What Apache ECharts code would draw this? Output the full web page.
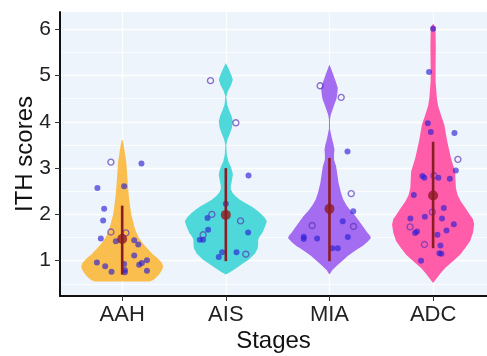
<!DOCTYPE html>
<html>
<head>
<meta charset="utf-8">
<script src="https://cdn.jsdelivr.net/npm/echarts@6/dist/echarts.min.js"></script>
<style>
  html, body { margin: 0; padding: 0; background: #ffffff; }
  #chart { width: 487px; height: 356px; }
</style>
</head>
<body>
<div id="chart"></div>
<script>
// ---- data -------------------------------------------------------------
const stages = ['AAH', 'AIS', 'MIA', 'ADC'];
const stagePositions = [1, 2, 3, 4];
const yTicks = [1, 2, 3, 4, 5, 6];
const yMinorLines = [0.5, 1.5, 2.5, 3.5, 4.5, 5.5];

// violin outlines: score levels and relative half-width (1 = widest)
const aahLevels = [0.55, 0.58, 0.62, 0.68, 0.74, 0.80, 0.87, 0.95, 1.02, 1.08, 1.13, 1.24, 1.38, 1.52, 1.66, 1.82, 2.00, 2.17, 2.40, 2.60, 2.85, 3.12, 3.30, 3.45, 3.55, 3.61];
const aahWidths = [0.66, 0.74, 0.80, 0.87, 0.92, 0.96, 0.99, 0.96, 0.89, 0.82, 0.75, 0.63, 0.49, 0.39, 0.32, 0.27, 0.22, 0.19, 0.16, 0.14, 0.12, 0.10, 0.07, 0.045, 0.025, 0.01];

const aisLevels = [0.70, 0.76, 0.82, 0.87, 0.95, 1.02, 1.15, 1.27, 1.36, 1.45, 1.53, 1.60, 1.72, 1.85, 1.94, 2.02, 2.10, 2.17, 2.25, 2.32, 2.40, 2.47, 2.55, 2.62, 2.70, 2.86, 2.95, 3.05, 3.15, 3.30, 3.50, 3.62, 3.75, 3.88, 4.01, 4.12, 4.25, 4.38, 4.55, 4.66, 4.78, 4.91, 5.02, 5.14, 5.27];
const aisWidths = [0.00, 0.12, 0.22, 0.30, 0.43, 0.55, 0.70, 0.77, 0.78, 0.78, 0.82, 0.88, 0.94, 0.99, 0.93, 0.84, 0.73, 0.62, 0.46, 0.33, 0.23, 0.16, 0.12, 0.12, 0.14, 0.17, 0.15, 0.11, 0.06, 0.024, 0.012, 0.04, 0.10, 0.15, 0.17, 0.14, 0.08, 0.03, 0.012, 0.05, 0.12, 0.17, 0.13, 0.07, 0.00];

const miaLevels = [0.70, 0.80, 0.90, 1.02, 1.10, 1.17, 1.25, 1.32, 1.41, 1.49, 1.55, 1.60, 1.75, 1.96, 2.08, 2.20, 2.33, 2.46, 2.68, 2.86, 3.04, 3.18, 3.30, 3.40, 3.50, 3.60, 3.72, 3.85, 4.05, 4.15, 4.25, 4.38, 4.50, 4.62, 4.73, 4.85, 4.95, 5.10, 5.24];
const miaWidths = [0.00, 0.07, 0.19, 0.34, 0.44, 0.55, 0.68, 0.80, 0.92, 1.00, 0.97, 0.92, 0.80, 0.63, 0.51, 0.41, 0.33, 0.28, 0.22, 0.19, 0.16, 0.11, 0.11, 0.12, 0.10, 0.07, 0.04, 0.012, 0.012, 0.03, 0.07, 0.12, 0.17, 0.19, 0.20, 0.16, 0.12, 0.06, 0.00];

const adcLevels = [0.52, 0.60, 0.72, 0.84, 0.98, 1.13, 1.28, 1.42, 1.60, 1.78, 1.90, 1.99, 2.14, 2.28, 2.42, 2.57, 2.75, 2.93, 3.22, 3.58, 3.94, 4.15, 4.35, 4.52, 4.87, 5.20, 5.60, 5.90, 6.05, 6.12];
const adcWidths = [0.00, 0.07, 0.17, 0.29, 0.47, 0.65, 0.78, 0.89, 0.96, 0.99, 0.96, 0.89, 0.78, 0.67, 0.59, 0.55, 0.54, 0.53, 0.43, 0.34, 0.27, 0.19, 0.12, 0.09, 0.06, 0.06, 0.065, 0.06, 0.055, 0.00];

// mean and mean ± SD per stage
const meanScores = [1.47, 1.99, 2.12, 2.41];
const sdLow = [0.70, 0.99, 0.99, 1.27];
const sdHigh = [2.19, 3.00, 3.22, 3.57];

// individual samples: jittered x position, ITH score, open marker flag
const aahX = [0.891, 0.891, 1.036, 1.186, 1.019, 0.761, 0.826, 0.816, 0.794, 0.939, 1.116, 1.155, 1.116, 0.756, 0.836, 0.897, 1.019, 1.026, 1.026, 1.164, 1.190, 1.239, 1.239];
const aahY = [3.13, 1.62, 1.60, 3.10, 2.61, 2.57, 2.12, 1.87, 1.48, 1.42, 1.44, 1.35, 1.11, 0.96, 0.88, 0.76, 0.93, 0.80, 0.75, 0.91, 0.95, 1.01, 0.78];
const aahOpen = [1, 1, 1, 0, 0, 0, 0, 0, 0, 0, 0, 0, 0, 0, 0, 0, 0, 0, 0, 0, 0, 0, 0];

const aisX = [1.852, 2.097, 1.865, 2.142, 1.781, 2.193, 2.219, 2.000, 1.823, 1.829, 2.215, 1.749, 1.781, 1.964, 1.932, 2.103];
const aisY = [4.89, 3.98, 2.00, 1.86, 1.56, 1.14, 2.84, 2.23, 1.92, 1.67, 1.61, 1.45, 1.45, 1.18, 1.08, 1.18];
const aisOpen = [1, 1, 1, 1, 1, 1, 0, 0, 0, 0, 0, 0, 0, 0, 0, 0];

const miaX = [2.910, 3.113, 3.210, 3.232, 2.833, 3.174, 3.229, 3.128, 2.752, 2.752, 2.881, 3.177, 3.026, 3.080];
const miaY = [4.78, 4.53, 2.45, 1.74, 1.76, 3.36, 2.07, 1.85, 1.52, 1.47, 1.48, 1.51, 1.27, 1.27];
const miaOpen = [1, 1, 1, 1, 1, 0, 0, 0, 0, 0, 0, 0, 0, 0];

const adcX = [4.239, 4.007, 3.993, 3.778, 3.916, 4.000, 3.961, 3.949, 3.978, 4.206, 4.219, 3.897, 3.916, 4.051, 4.161, 3.814, 4.103, 3.920, 4.086, 3.781, 3.845, 3.826, 4.200, 4.129, 4.042, 4.071, 4.061, 4.080, 3.884];
const adcY = [3.19, 2.84, 2.05, 1.73, 1.35, 6.01, 5.08, 3.97, 3.78, 3.76, 2.95, 2.83, 2.79, 2.79, 2.77, 2.42, 2.14, 1.95, 1.91, 1.91, 1.63, 1.60, 1.79, 1.65, 1.56, 1.33, 1.16, 1.15, 1.00];
const adcOpen = [1, 1, 1, 1, 1, 0, 0, 0, 0, 0, 0, 0, 0, 0, 0, 0, 0, 0, 0, 0, 0, 0, 0, 0, 0, 0, 0, 0, 0];

// ---- styling ----------------------------------------------------------
const violinColors = ['#FABE4E', '#4FD8D9', '#A46DF1', '#FF5DAA'];
const summaryColor = '#8C1C24';
const pointColor = 'rgba(40, 30, 215, 0.8)';
const openPointColor = 'rgba(90, 50, 185, 0.85)';
const maxHalfWidth = 0.4; // in stage units
const fontFamily = '"Liberation Sans", Arial, sans-serif';

const violinSets = [
  [aahLevels, aahWidths],
  [aisLevels, aisWidths],
  [miaLevels, miaWidths],
  [adcLevels, adcWidths]
];
const sampleSets = [
  [aahX, aahY, aahOpen],
  [aisX, aisY, aisOpen],
  [miaX, miaY, miaOpen],
  [adcX, adcY, adcOpen]
];

function violinSeries(i) {
  const pos = stagePositions[i];
  const levels = violinSets[i][0];
  const widths = violinSets[i][1];
  return {
    type: 'custom',
    coordinateSystem: 'cartesian2d',
    silent: true,
    z: 2,
    data: [[pos, levels[0]]],
    renderItem: function (params, api) {
      const right = levels.map((v, j) => api.coord([pos + widths[j] * maxHalfWidth, v]));
      const left = levels.map((v, j) => api.coord([pos - widths[j] * maxHalfWidth, v])).reverse();
      return {
        type: 'polygon',
        shape: { points: right.concat(left) },
        style: { fill: violinColors[i], lineJoin: 'round' }
      };
    }
  };
}

const filledPoints = [];
const openPoints = [];
sampleSets.forEach(([xs, ys, open]) => {
  xs.forEach((x, j) => (open[j] ? openPoints : filledPoints).push([x, ys[j]]));
});

const chart = echarts.init(document.getElementById('chart'), null, { renderer: 'canvas' });

chart.setOption({
  animation: false,
  textStyle: { fontFamily: fontFamily },
  grid: {
    left: 60, right: 0, top: 12, bottom: 60,
    containLabel: false,
    outerBoundsMode: 'none',
    show: true, backgroundColor: '#EEF4FB', borderWidth: 0
  },
  xAxis: {
    type: 'value',
    min: 0.4,
    max: 4.52,
    name: 'Stages',
    nameLocation: 'middle',
    nameGap: 33,
    nameMoveOverlap: false,
    nameTextStyle: { fontSize: 24, color: '#111', fontFamily: fontFamily },
    axisLine: { show: true, onZero: false, lineStyle: { color: '#111', width: 2 } },
    axisTick: { show: true, customValues: stagePositions, length: 5, lineStyle: { color: '#333', width: 1 } },
    axisLabel: {
      customValues: stagePositions,
      formatter: v => stages[Math.round(v) - 1],
      fontSize: 22, color: '#222', margin: 8, fontFamily: fontFamily
    },
    splitLine: { show: true, lineStyle: { color: '#ffffff', width: 1.3 } }
  },
  yAxis: [
    {
      type: 'value',
      min: 0.237,
      max: 6.374,
      name: 'ITH scores',
      nameLocation: 'middle',
      nameGap: 23,
      nameRotate: 90,
      nameMoveOverlap: false,
      nameTextStyle: { fontSize: 24, color: '#111', fontFamily: fontFamily },
      axisLine: { show: true, onZero: false, lineStyle: { color: '#111', width: 2 } },
      axisTick: { show: true, customValues: yTicks, length: 5, lineStyle: { color: '#333', width: 1 } },
      axisLabel: { customValues: yTicks, fontSize: 21, color: '#222', margin: 9, fontFamily: fontFamily },
      splitLine: { show: true, lineStyle: { color: '#ffffff', width: 1.3 } }
    },
    {
      type: 'value',
      min: 0.237,
      max: 6.374,
      position: 'left',
      axisLine: { show: false },
      axisTick: { show: false, customValues: yMinorLines },
      axisLabel: { show: false, customValues: yMinorLines },
      splitLine: { show: true, lineStyle: { color: '#ffffff', width: 0.7 } }
    }
  ],
  series: [
    violinSeries(0),
    violinSeries(1),
    violinSeries(2),
    violinSeries(3),
    {
      type: 'scatter',
      data: filledPoints,
      symbol: 'circle',
      symbolSize: 6,
      z: 3,
      silent: true,
      itemStyle: { color: pointColor }
    },
    {
      type: 'scatter',
      data: openPoints,
      symbol: 'circle',
      symbolSize: 6,
      z: 3,
      silent: true,
      itemStyle: { color: 'rgba(0,0,0,0)', borderColor: openPointColor, borderWidth: 1.4 }
    },
    {
      // mean ± SD bars
      type: 'custom',
      coordinateSystem: 'cartesian2d',
      silent: true,
      z: 4,
      data: stagePositions.map((p, i) => [p, sdLow[i], sdHigh[i]]),
      encode: { x: 0, y: [1, 2] },
      renderItem: function (params, api) {
        const lo = api.coord([api.value(0), api.value(1)]);
        const hi = api.coord([api.value(0), api.value(2)]);
        return {
          type: 'line',
          shape: { x1: lo[0], y1: lo[1], x2: hi[0], y2: hi[1] },
          style: { stroke: summaryColor, lineWidth: 2.6 }
        };
      }
    },
    {
      type: 'scatter',
      data: stagePositions.map((p, i) => [p, meanScores[i]]),
      symbol: 'circle',
      symbolSize: 10,
      z: 5,
      silent: true,
      itemStyle: { color: summaryColor }
    }
  ]
});
</script>
</body>
</html>
